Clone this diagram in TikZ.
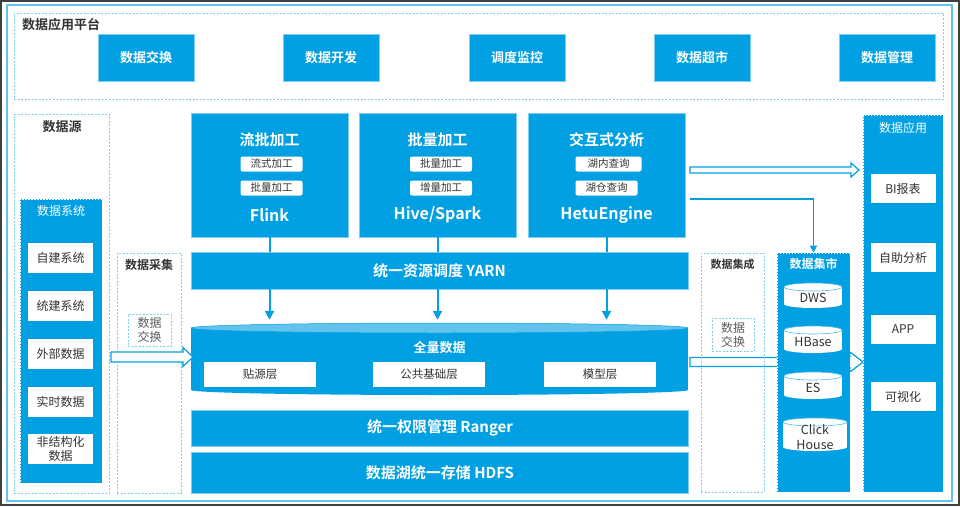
\documentclass[tikz,border=0pt]{standalone}
\usepackage{fontspec}
\setmainfont{Noto Sans CJK SC}[BoldFont={Noto Sans CJK SC Bold}]
\usetikzlibrary{arrows.meta}
\definecolor{lakeblue}{HTML}{00A0E3}
\definecolor{dashblue}{HTML}{7FCEF0}
\definecolor{capblue}{HTML}{62C3EC}
\definecolor{framegray}{HTML}{404040}
\definecolor{inkgray}{HTML}{333333}

\tikzset{
  zone/.style={draw=dashblue, line width=1pt, dash pattern=on 2pt off 1.5pt, inner sep=0pt},
  bluezone/.style={fill=lakeblue, draw=white, line width=0.8pt, dash pattern=on 1.5pt off 1.5pt, inner sep=0pt},
  platbox/.style={fill=lakeblue, draw=dashblue, line width=0.8pt, text=white, inner sep=0pt,
    minimum width=96pt, minimum height=47pt, font=\fontsize{13}{15}\selectfont\bfseries},
  enginebox/.style={fill=lakeblue, draw=dashblue, line width=0.6pt, inner sep=0pt,
    minimum width=157pt, minimum height=124pt},
  engtitle/.style={text=white, inner sep=0pt, font=\fontsize{15}{17}\selectfont\bfseries},
  engtool/.style={text=white, inner sep=0pt, font=\fontsize{16}{18}\selectfont\bfseries},
  bar/.style={fill=lakeblue, draw=dashblue, line width=0.6pt, text=white, inner sep=0pt,
    minimum width=497pt, font=\fontsize{15}{17}\selectfont\bfseries},
  itembox/.style={fill=white, text=inkgray, inner sep=0pt, align=center,
    minimum width=65pt, minimum height=30pt, font=\fontsize{12}{14}\selectfont},
  tagbox/.style={fill=white, rounded corners=2pt, text=inkgray, inner sep=0pt,
    minimum height=15pt, font=\fontsize{10.5}{12}\selectfont},
  layerbox/.style={fill=white, text=inkgray, inner sep=0pt,
    minimum width=112pt, minimum height=25pt, font=\fontsize{11.5}{13}\selectfont},
  zonetitle/.style={text=inkgray, inner sep=0pt, font=\fontsize{12}{14}\selectfont\bfseries},
  whitetitle/.style={text=white, inner sep=0pt, font=\fontsize{12}{14}\selectfont},
  exchbox/.style={zone, line width=0.8pt, text=inkgray!80, align=center,
    minimum width=43pt, minimum height=32pt, font=\fontsize{12}{14}\selectfont},
  hollow/.style={fill=white, draw=lakeblue, line width=1.2pt, line join=miter},
  feed/.style={draw=lakeblue, line width=2pt, -{Triangle[length=9pt,width=9pt]}},
}

\begin{document}
\begin{tikzpicture}[x=1pt,y=-1pt]
\useasboundingbox (0,0) rectangle (960,506);
% outer frames
\draw[framegray, line width=1.3pt] (1,1) rectangle (959,505);
\draw[capblue, line width=1.6pt] (7,5) rectangle (952,501);

% application platform
\node[zone, minimum width=929pt, minimum height=86pt] (platform) at (478.5,56) {};
\node[zonetitle, anchor=west, font=\fontsize{13}{15}\selectfont\bfseries] (platformtitle) at (22,25) {数据应用平台};
\foreach \name/\x/\txt in {exch/146/数据交换, dev/331/数据开发, sched/517/调度监控, market/702/数据超市, govern/887/数据管理}
  \node[platbox] (\name) at (\x,57.5) {\txt};

% data sources
\node[zone, minimum width=95pt, minimum height=379pt] (srczone) at (61.5,303.5) {};
\node[zonetitle, font=\fontsize{13}{15}\selectfont\bfseries] (srctitle) at (62,127) {数据源};
\node[bluezone, minimum width=82pt, minimum height=284pt] (sysbox) at (61,341) {};
\node[whitetitle] (systitle) at (61,211) {数据系统};
\foreach \name/\y/\txt in {selfsys/258/自建系统, unisys/306/统建系统, extdata/353.5/外部数据, rtdata/401.5/实时数据, unstruct/449/非结构化\\数据}
  \node[itembox] (\name) at (60.5,\y) {\txt};

% data collection
\node[zone, minimum width=64pt, minimum height=240pt] (collect) at (149,373) {};
\node[zonetitle] (collecttitle) at (149,265) {数据采集};
\node[exchbox] (collectx) at (149.5,330) {数据\\交换};

% engines
\node[enginebox] (flink) at (269.5,175) {};
\node[engtitle] (flinktitle) at (269.5,140) {流批加工};
\node[tagbox, minimum width=62pt] (flinktaga) at (271.5,164) {流式加工};
\node[tagbox, minimum width=62pt] (flinktagb) at (271.5,188) {批量加工};
\node[engtool] (flinktool) at (269.5,215) {Flink};

\node[enginebox] (hive) at (437.5,175) {};
\node[engtitle] (hivetitle) at (437.5,140) {批量加工};
\node[tagbox, minimum width=62pt] (hivetaga) at (441,164) {批量加工};
\node[tagbox, minimum width=62pt] (hivetagb) at (441,188) {增量加工};
\node[engtool] (hivetool) at (437.5,215) {Hive/Spark};

\node[enginebox] (hetu) at (606.5,175) {};
\node[engtitle] (hetutitle) at (606.5,140) {交互式分析};
\node[tagbox, minimum width=66pt] (hetutaga) at (608.5,164) {湖内查询};
\node[tagbox, minimum width=62pt] (hetutagb) at (606.5,188) {湖仓查询};
\node[engtool] (hetutool) at (606.5,215) {HetuEngine};

% resource scheduling
\node[bar, minimum height=37pt] (yarn) at (439.5,270.5) {统一资源调度 YARN};
\node[inner sep=0pt, minimum width=497pt, minimum height=72pt] (fulldata) at (439.5,359) {};
\foreach \e in {flink,hive,hetu} {
  \draw[lakeblue, line width=2pt] (\e.south) -- (\e.south |- yarn.north);
  \draw[feed] (\e.south |- yarn.south) -- ([yshift=3pt]\e.south |- fulldata.north);
}

% full data cylinder
\fill[lakeblue] (191,328) rectangle (688,390);
\fill[lakeblue] (439.5,390) ellipse [x radius=248.5, y radius=5];
\filldraw[fill=capblue, draw=lakeblue, line width=0.5pt] (439.5,328) ellipse [x radius=248.5, y radius=5];
\node[text=white, inner sep=0pt, font=\fontsize{13}{15}\selectfont\bfseries] (fulltitle) at (439.5,348) {全量数据};
\foreach \name/\x/\txt in {odsl/260/贴源层, basel/429/公共基础层, model/600/模型层}
  \node[layerbox] (\name) at (\x,374.5) {\txt};

% permission and storage
\node[bar, minimum height=36pt] (ranger) at (440,428) {统一权限管理 Ranger};
\node[bar, minimum height=41pt] (hdfs) at (440,472.5) {数据湖统一存储 HDFS};

% hollow arrows
\draw[hollow] (111,352) -- (183,352) -- (183,347.5) -- (193,357) -- (183,366.5) -- (183,362) -- (111,362) -- cycle;
\draw[hollow] (690,167) -- (851,167) -- (851,163) -- (859,170) -- (851,177) -- (851,173) -- (690,173) -- cycle;
\draw[hollow] (690,357.5) -- (850,357.5) -- (850,352) -- (863,362) -- (850,372) -- (850,366.5) -- (690,366.5) -- cycle;

% data integration
\node[zone, minimum width=63pt, minimum height=239pt] (integ) at (732.5,372.5) {};
\node[zonetitle, font=\fontsize{11}{13}\selectfont\bfseries] (integtitle) at (732.5,264) {数据集成};
\node[exchbox, minimum width=42pt, minimum height=33pt] (integx) at (733,334.5) {数据\\交换};

% data mart
\node[bluezone, minimum width=73pt, minimum height=239pt] (mart) at (813.5,372.5) {};
\node[whitetitle, font=\fontsize{12}{14}\selectfont\bfseries] (marttitle) at (813.5,264) {数据集市};
\draw[lakeblue, line width=1.5pt, -{Triangle[length=7pt,width=7pt]}] ([shift={(5pt,-24pt)}]hetu.east) -| (mart.north);
\foreach \name/\top/\bot/\cx/\rx/\txt in {dws/283/308/813/29/DWS, hbase/326/353/813/29/HBase, es/372/399/813/29/ES, click/418/451/815/32/Click\\House} {
  \fill[white] (\cx-\rx,\top+4) rectangle (\cx+\rx,\bot-4);
  \fill[white] (\cx,\bot-4) ellipse [x radius=\rx, y radius=4];
  \filldraw[fill=white, draw=lakeblue!70, line width=0.6pt] (\cx,\top+4) ellipse [x radius=\rx, y radius=4];
  \node[text=inkgray, inner sep=0pt, align=center, font=\fontsize{12.5}{15}\selectfont] (\name) at (\cx,{(\top+\bot)/2+2.5}) {\txt};
}

% data applications
\node[bluezone, minimum width=80pt, minimum height=377pt] (appzone) at (903,303.5) {};
\node[whitetitle] (apptitle) at (903,128) {数据应用};
\foreach \name/\y/\txt in {bi/188.5/BI报表, selfana/257.5/自助分析, app/329.5/APP, visual/396.5/可视化}
  \node[itembox, minimum height=29pt] (\name) at (903,\y) {\txt};
\end{tikzpicture}
\end{document}
